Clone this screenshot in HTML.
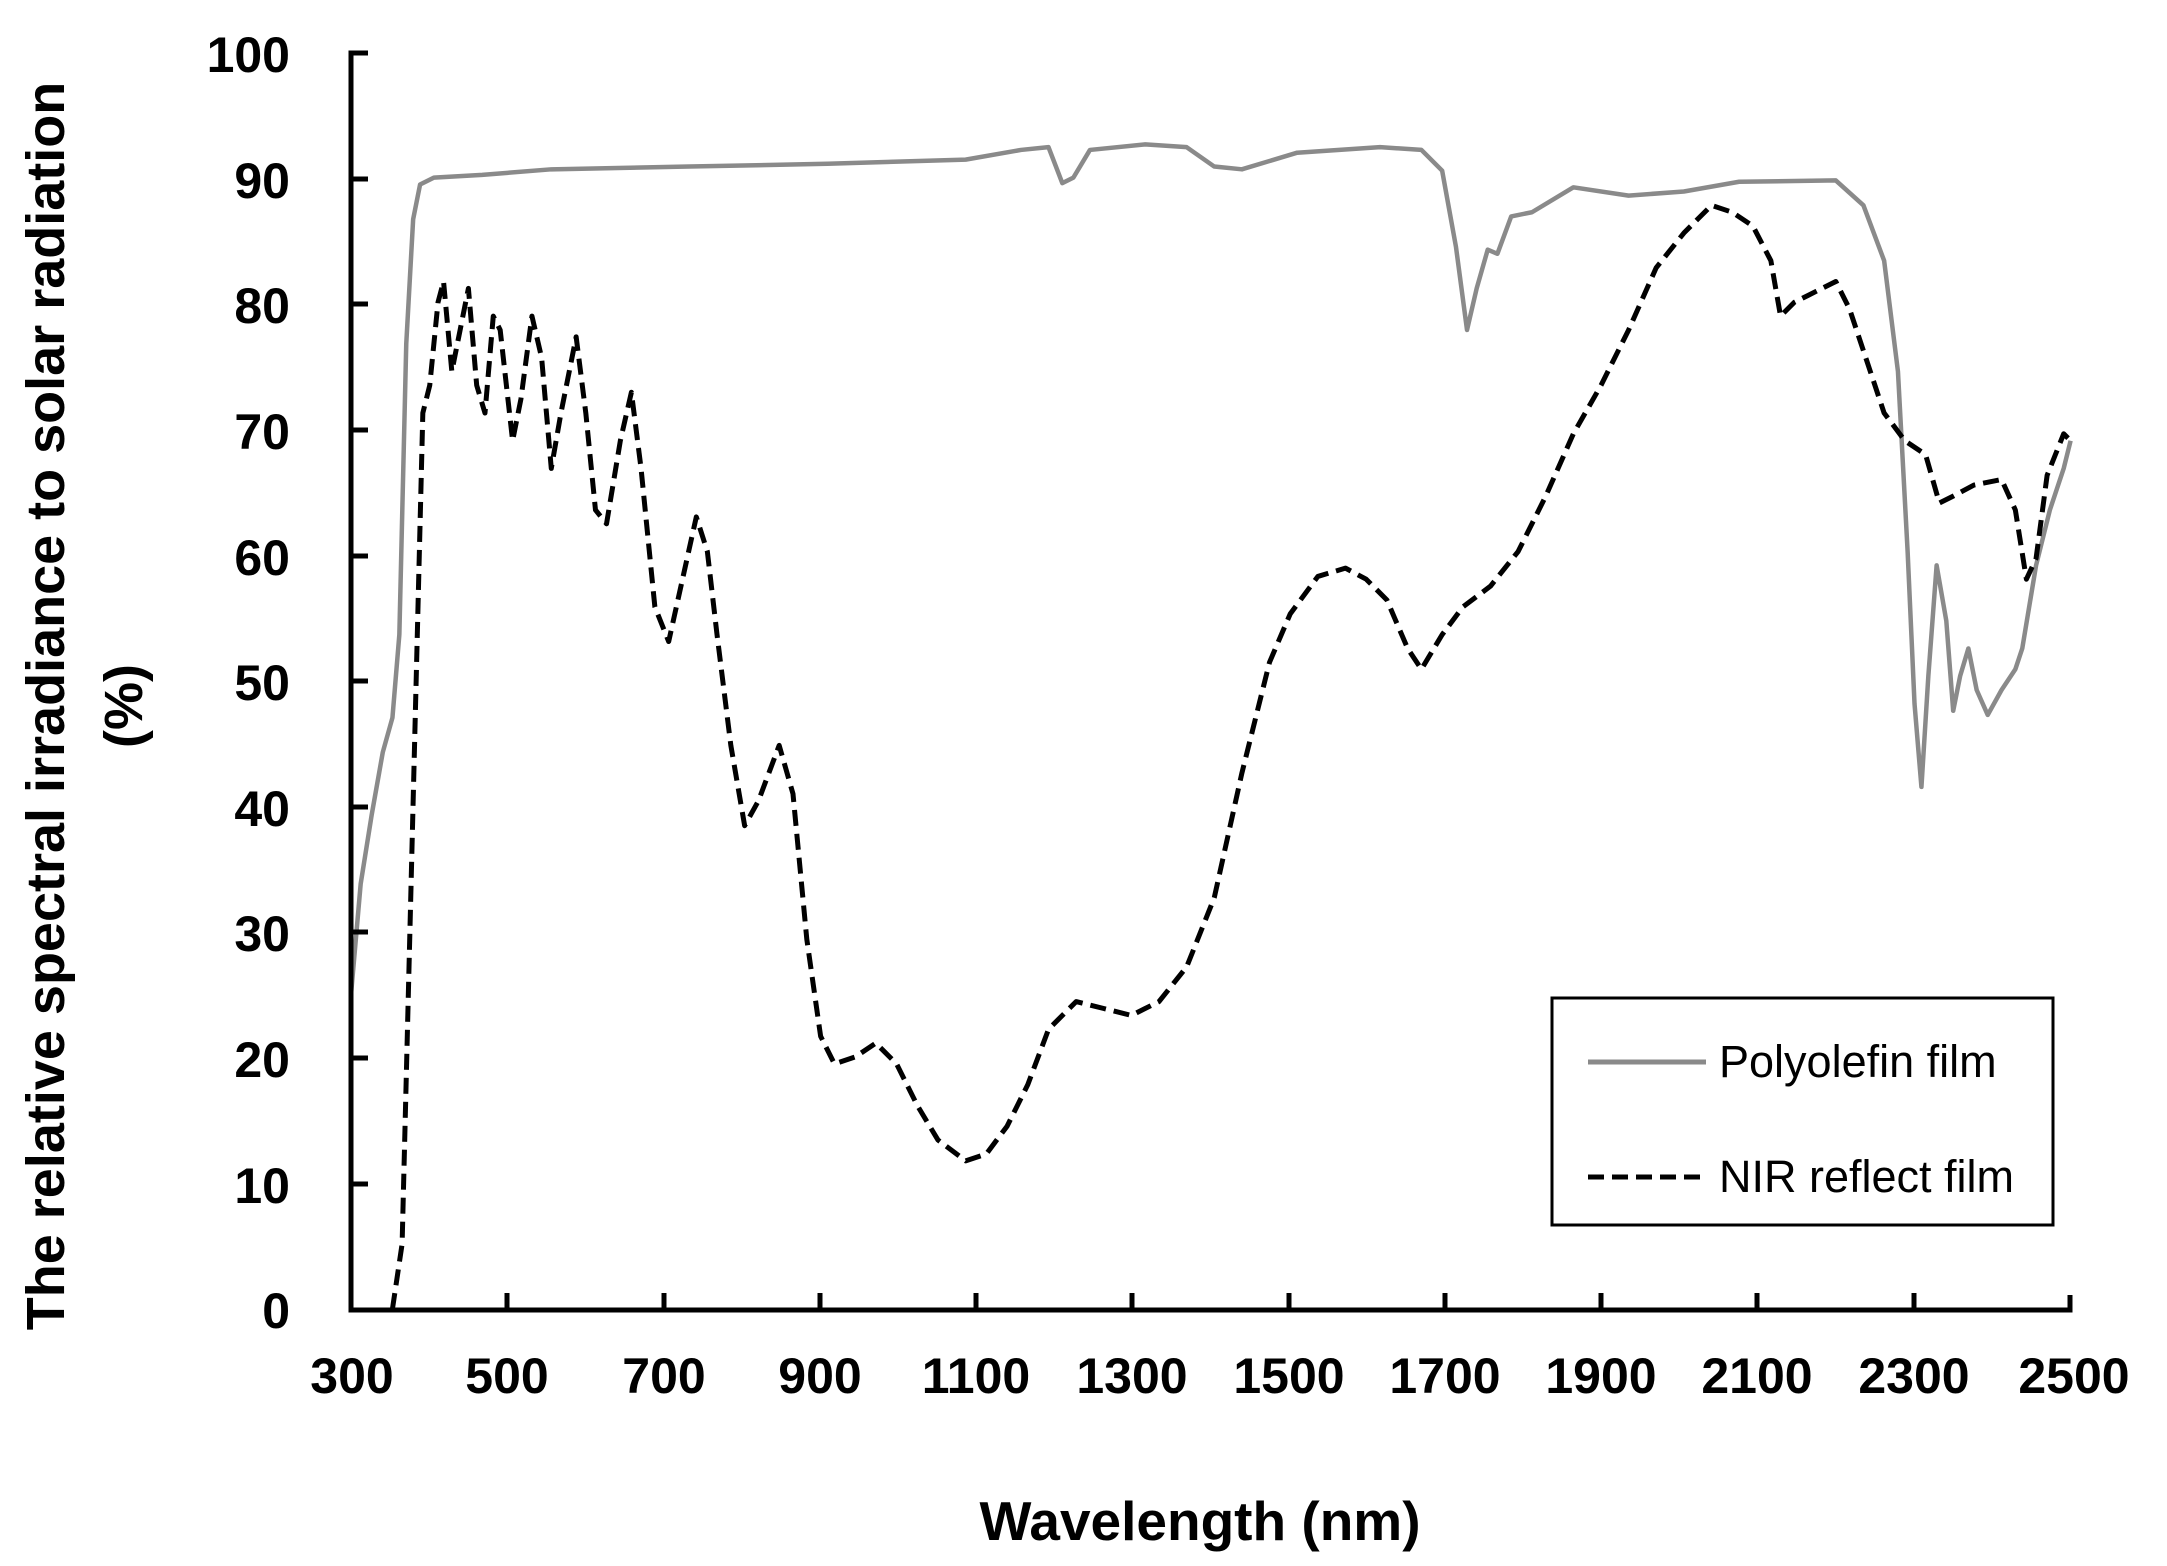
<!DOCTYPE html>
<html><head><meta charset="utf-8"><style>
html,body{margin:0;padding:0;background:#fff}
svg{display:block}
text{font-family:"Liberation Sans",Arial,sans-serif}
</style></head><body>
<svg width="2167" height="1566" viewBox="0 0 2167 1566" xmlns="http://www.w3.org/2000/svg">
<rect width="2167" height="1566" fill="#fff"/>
<g transform="matrix(1.3812 0 0 1.3848 -1.2 -2.4)" fill="none">
<polyline vector-effect="non-scaling-stroke" stroke="#8a8a8a" stroke-width="4.5" stroke-linejoin="round" points="255,720 262,640 270,590 278,545 285,520 290,460 295,250 300,160 305,135 315,130 350,128 400,124 500,122 600,120 700,117 740,110 760,108 770,134 778,130 790,110 830,106 860,108 880,122 900,124 940,112 1000,108 1030,110 1045,125 1055,180 1063,240 1070,210 1078,182 1085,185 1095,158 1110,155 1140,137 1180,143 1220,140 1260,133 1330,132 1350,150 1365,190 1375,270 1382,400 1387,510 1392,570 1397,490 1403,410 1410,450 1415,515 1420,490 1426,470 1432,500 1440,518 1450,500 1460,485 1465,470 1475,410 1485,370 1495,340 1500,320"/>
<polyline vector-effect="non-scaling-stroke" stroke="#000" stroke-width="5" stroke-dasharray="16 8" stroke-linejoin="round" points="285,947 292,900 297,700 302,500 307,300 312,280 318,220 322,205 328,270 334,240 340,210 346,280 352,300 358,230 363,240 372,320 378,290 386,230 393,260 400,340 407,300 418,245 425,300 432,370 440,380 450,320 458,285 465,340 475,440 485,465 495,420 505,375 513,400 520,460 530,540 540,598 550,580 565,540 575,575 585,680 595,750 605,770 620,765 635,755 650,770 665,800 680,825 700,840 715,835 730,815 745,785 760,745 780,725 800,730 820,735 840,725 860,700 880,650 900,560 920,480 935,445 955,418 975,412 990,420 1005,435 1020,470 1030,485 1045,460 1060,440 1080,425 1100,400 1120,360 1140,315 1160,280 1180,240 1200,195 1220,170 1240,150 1255,155 1270,165 1283,190 1290,230 1300,220 1310,215 1320,210 1330,205 1340,225 1355,270 1365,300 1380,320 1395,330 1405,365 1415,360 1430,352 1450,348 1460,370 1468,420 1475,405 1483,345 1495,315 1500,320"/>
</g>
<g stroke="#000" stroke-width="5" fill="none">
<path d="M368,53 H351 V1310 H2070 V1295"/>
<path d="M351,179 H368 M351,304 H368 M351,430 H368 M351,556 H368 M351,681 H368 M351,807 H368 M351,932 H368 M351,1058 H368 M351,1184 H368"/>
<path d="M507,1310 V1293 M664,1310 V1293 M820,1310 V1293 M976,1310 V1293 M1132,1310 V1293 M1289,1310 V1293 M1445,1310 V1293 M1601,1310 V1293 M1757,1310 V1293 M1914,1310 V1293"/>
</g>
<g font-size="50" font-weight="bold" text-anchor="end" fill="#000">
<text x="290" y="72">100</text><text x="290" y="198">90</text><text x="290" y="323">80</text><text x="290" y="449">70</text><text x="290" y="575">60</text><text x="290" y="700">50</text><text x="290" y="826">40</text><text x="290" y="951">30</text><text x="290" y="1077">20</text><text x="290" y="1203">10</text><text x="290" y="1328">0</text>
</g>
<g font-size="50" font-weight="bold" text-anchor="middle" fill="#000">
<text x="352" y="1393">300</text><text x="507" y="1393">500</text><text x="664" y="1393">700</text><text x="820" y="1393">900</text><text x="976" y="1393">1100</text><text x="1132" y="1393">1300</text><text x="1289" y="1393">1500</text><text x="1445" y="1393">1700</text><text x="1601" y="1393">1900</text><text x="1757" y="1393">2100</text><text x="1914" y="1393">2300</text><text x="2074" y="1393">2500</text>
</g>
<text x="1200" y="1540" font-size="55" font-weight="bold" text-anchor="middle">Wavelength (nm)</text>
<text transform="translate(64,706) rotate(-90)" font-size="54" font-weight="bold" text-anchor="middle">The relative spectral irradiance to solar radiation</text>
<text transform="translate(142,706) rotate(-90)" font-size="54" font-weight="bold" text-anchor="middle">(%)</text>
<rect x="1552" y="998" width="501" height="227" fill="#fff" stroke="#000" stroke-width="3"/>
<line x1="1588" y1="1062" x2="1706" y2="1062" stroke="#8a8a8a" stroke-width="5"/>
<line x1="1588" y1="1177" x2="1706" y2="1177" stroke="#000" stroke-width="5" stroke-dasharray="16 8"/>
<text x="1719" y="1077" font-size="45">Polyolefin film</text>
<text x="1719" y="1192" font-size="45">NIR reflect film</text>
</svg>
</body></html>
